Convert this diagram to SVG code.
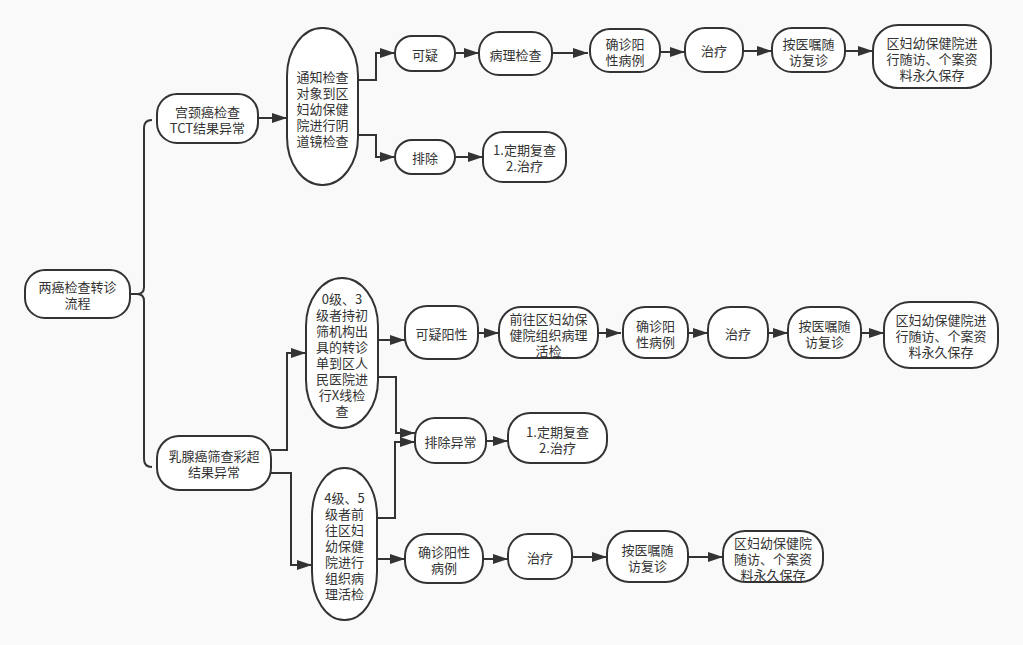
<svg xmlns="http://www.w3.org/2000/svg" width="1023" height="645" viewBox="0 0 1023 645">
<defs>
<marker id="arr" markerUnits="userSpaceOnUse" markerWidth="15" markerHeight="10" refX="15" refY="5" orient="auto">
<path d="M0,0 L15,5 L0,10 z" fill="#333"/>
</marker>
<style>
.n rect{fill:#fff;stroke:#333;stroke-width:2}
.n text{font-family:"Noto Sans CJK SC","Liberation Sans",sans-serif;font-size:13px;fill:#333;text-anchor:middle;dominant-baseline:central}
#connectors path{fill:none;stroke:#333;stroke-width:2}
#connectors .a{marker-end:url(#arr)}
</style>
</defs>
<rect width="1023" height="645" fill="#f9f9f9"/>
<g id="connectors">
<path d="M130,294 L137,294 Q144,294 144,287 L144,128 Q144,120 152,120"/>
<path d="M137,294 Q144,294 144,301 L144,459 Q144,467 152,467"/>
<path class="a" d="M258,118 L287,118"/>
<path class="a" d="M358,80 L376,80 L376,53 L395,53"/>
<path class="a" d="M358,135 L376,135 L376,157 L395,157"/>
<path class="a" d="M455,53 L479,53"/>
<path class="a" d="M455,157 L483,157"/>
<path class="a" d="M552,53 L588,53"/>
<path class="a" d="M660,52 L685,52"/>
<path class="a" d="M743,51 L772,51"/>
<path class="a" d="M845,51 L873,51"/>
<path class="a" d="M271,450 L287,450 L287,353 L306,353"/>
<path class="a" d="M271,473 L291,473 L291,565 L312,565"/>
<path class="a" d="M378,340 L405,340"/>
<path class="a" d="M378,377 L396,377 L396,433 L415,433"/>
<path class="a" d="M377,518 L395,518 L395,442 L415,442"/>
<path class="a" d="M478,333 L499,333"/>
<path class="a" d="M598,333 L621,333"/>
<path class="a" d="M688,333 L708,333"/>
<path class="a" d="M768,333 L788,333"/>
<path class="a" d="M861,333 L884,333"/>
<path class="a" d="M486,441 L508,441"/>
<path class="a" d="M377,559 L405,559"/>
<path class="a" d="M483,559 L508,559"/>
<path class="a" d="M572,557 L607,557"/>
<path class="a" d="M688,557 L723,557"/>
</g>
<g id="root" class="n"><rect x="25" y="270" width="105" height="48" rx="20"/><text><tspan x="77.5" y="286">两癌检查转诊</tspan><tspan x="77.5" y="302">流程</tspan></text></g>
<g id="cervix" class="n"><rect x="157" y="94" width="101" height="49" rx="20"/><text><tspan x="207.5" y="111">宫颈癌检查</tspan><tspan x="207.5" y="127">TCT结果异常</tspan></text></g>
<g id="notify" class="n"><rect x="287" y="28" width="71" height="157" rx="35" ry="48"/><text><tspan x="322.5" y="76">通知检查</tspan><tspan x="322.5" y="92">对象到区</tspan><tspan x="322.5" y="108">妇幼保健</tspan><tspan x="322.5" y="124">院进行阴</tspan><tspan x="322.5" y="140">道镜检查</tspan></text></g>
<g id="suspect1" class="n"><rect x="395" y="36" width="60" height="35" rx="17"/><text><tspan x="425" y="53.5">可疑</tspan></text></g>
<g id="exclude1" class="n"><rect x="395" y="140" width="60" height="34" rx="17"/><text><tspan x="425" y="157">排除</tspan></text></g>
<g id="patho1" class="n"><rect x="479" y="32" width="73" height="43" rx="20"/><text><tspan x="515.5" y="53.5">病理检查</tspan></text></g>
<g id="review1" class="n"><rect x="483" y="132" width="83" height="50" rx="20"/><text><tspan x="524.5" y="149">1.定期复查</tspan><tspan x="524.5" y="165">2.治疗</tspan></text></g>
<g id="confirm1" class="n"><rect x="590" y="29" width="70" height="43" rx="20"/><text><tspan x="625" y="43">确诊阳</tspan><tspan x="625" y="59">性病例</tspan></text></g>
<g id="treat1" class="n"><rect x="685" y="28" width="58" height="44" rx="20"/><text><tspan x="714" y="50">治疗</tspan></text></g>
<g id="follow1" class="n"><rect x="772" y="28" width="73" height="44" rx="20"/><text><tspan x="808.5" y="43">按医嘱随</tspan><tspan x="808.5" y="59">访复诊</tspan></text></g>
<g id="archive1" class="n"><rect x="873" y="25" width="118" height="63" rx="25"/><text><tspan x="932" y="42">区妇幼保健院进</tspan><tspan x="932" y="58">行随访、个案资</tspan><tspan x="932" y="74">料永久保存</tspan></text></g>
<g id="breast" class="n"><rect x="157" y="436" width="114" height="54" rx="22"/><text><tspan x="214" y="455">乳腺癌筛查彩超</tspan><tspan x="214" y="471">结果异常</tspan></text></g>
<g id="grade03" class="n"><rect x="306" y="278" width="72" height="150" rx="36" ry="48"/><text><tspan x="342" y="298">0级、3</tspan><tspan x="342" y="314">级者持初</tspan><tspan x="342" y="330">筛机构出</tspan><tspan x="342" y="346">具的转诊</tspan><tspan x="342" y="362">单到区人</tspan><tspan x="342" y="378">民医院进</tspan><tspan x="342" y="394">行X线检</tspan><tspan x="342" y="410">查</tspan></text></g>
<g id="grade45" class="n"><rect x="312" y="468" width="65" height="152" rx="32" ry="48"/><text><tspan x="344.5" y="497">4级、5</tspan><tspan x="344.5" y="513">级者前</tspan><tspan x="344.5" y="529">往区妇</tspan><tspan x="344.5" y="545">幼保健</tspan><tspan x="344.5" y="561">院进行</tspan><tspan x="344.5" y="577">组织病</tspan><tspan x="344.5" y="593">理活检</tspan></text></g>
<g id="suspect2" class="n"><rect x="405" y="306" width="73" height="53" rx="22"/><text><tspan x="441.5" y="333">可疑阳性</tspan></text></g>
<g id="biopsy" class="n"><rect x="499" y="307" width="99" height="51" rx="22"/><text><tspan x="548.5" y="318">前往区妇幼保</tspan><tspan x="548.5" y="334">健院组织病理</tspan><tspan x="548.5" y="350">活检</tspan></text></g>
<g id="confirm2" class="n"><rect x="623" y="307" width="65" height="51" rx="22"/><text><tspan x="655.5" y="325">确诊阳</tspan><tspan x="655.5" y="341">性病例</tspan></text></g>
<g id="treat2" class="n"><rect x="708" y="307" width="60" height="51" rx="22"/><text><tspan x="738" y="333">治疗</tspan></text></g>
<g id="follow2" class="n"><rect x="788" y="307" width="73" height="51" rx="22"/><text><tspan x="824.5" y="325">按医嘱随</tspan><tspan x="824.5" y="341">访复诊</tspan></text></g>
<g id="archive2" class="n"><rect x="884" y="302" width="114" height="66" rx="26"/><text><tspan x="941" y="319">区妇幼保健院进</tspan><tspan x="941" y="335">行随访、个案资</tspan><tspan x="941" y="351">料永久保存</tspan></text></g>
<g id="exclude2" class="n"><rect x="415" y="418" width="71" height="45" rx="20"/><text><tspan x="450.5" y="441">排除异常</tspan></text></g>
<g id="review2" class="n"><rect x="508" y="413" width="99" height="50" rx="22"/><text><tspan x="557.5" y="431">1.定期复查</tspan><tspan x="557.5" y="447">2.治疗</tspan></text></g>
<g id="confirm3" class="n"><rect x="405" y="534" width="78" height="49" rx="22"/><text><tspan x="444" y="551">确诊阳性</tspan><tspan x="444" y="567">病例</tspan></text></g>
<g id="treat3" class="n"><rect x="508" y="534" width="64" height="45" rx="20"/><text><tspan x="540" y="557">治疗</tspan></text></g>
<g id="follow3" class="n"><rect x="607" y="531" width="81" height="51" rx="22"/><text><tspan x="647.5" y="549">按医嘱随</tspan><tspan x="647.5" y="565">访复诊</tspan></text></g>
<g id="archive3" class="n"><rect x="723" y="531" width="100" height="51" rx="22"/><text><tspan x="773" y="542">区妇幼保健院</tspan><tspan x="773" y="558">随访、个案资</tspan><tspan x="773" y="574">料永久保存</tspan></text></g>
</svg>
